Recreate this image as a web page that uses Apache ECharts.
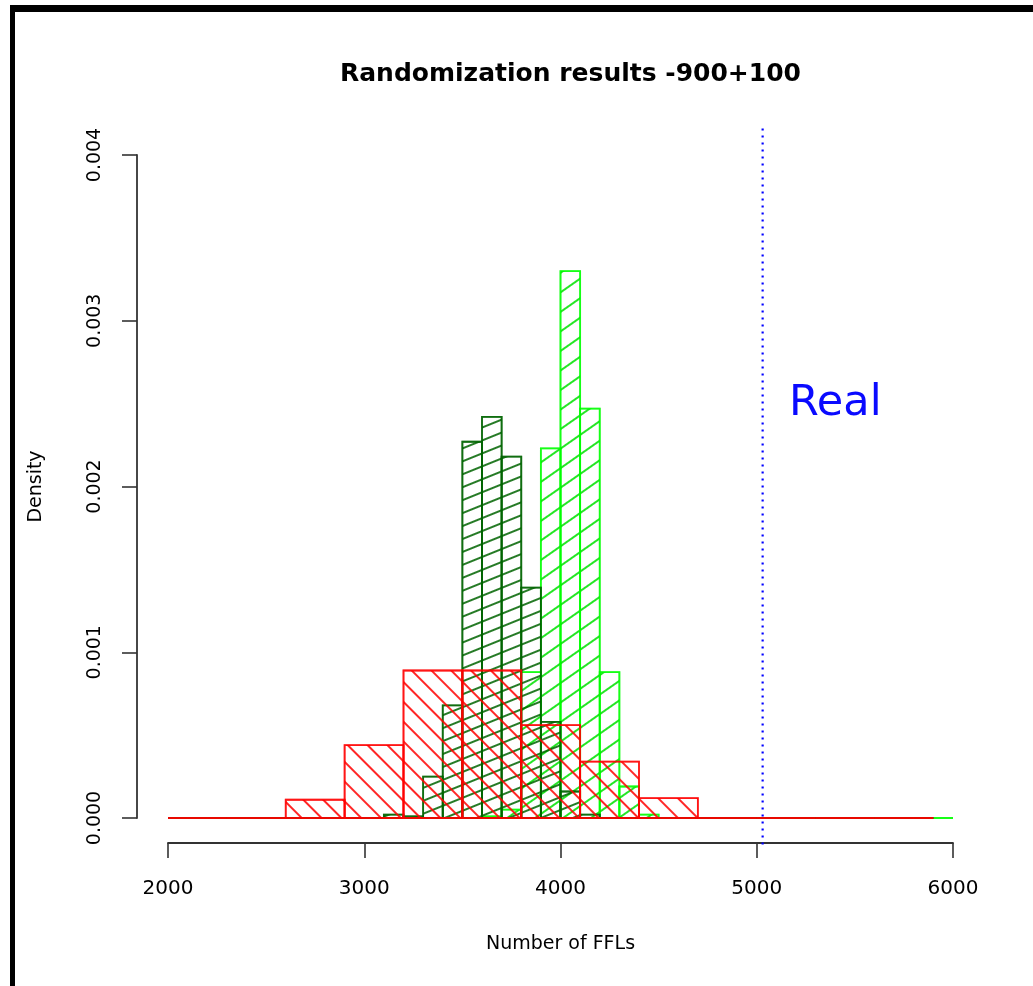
<!DOCTYPE html>
<html>
<head>
<meta charset="utf-8">
<script src="https://cdn.jsdelivr.net/npm/echarts@6/dist/echarts.min.js"></script>
<style>
  html, body { margin: 0; padding: 0; background: #fff; }
  #main { width: 1033px; height: 986px; }
</style>
</head>
<body>
<div id="main"></div>
<script>
// histogram densities, one value per bin (left edge = start + i * width)
const redStart = 2000;
const redWidth = 300;
const redDensity = [0, 0, 0.00011, 0.00044, 0.00089, 0.00089, 0.00056, 0.00034, 0.00012, 0, 0, 0, 0];

const darkStart = 2000;
const darkWidth = 100;
const darkDensity = [
  0, 0, 0, 0, 0, 0, 0, 0, 0, 0,
  0, 0.00002, 0.00001, 0.00025, 0.00068, 0.00227, 0.00242, 0.00218, 0.00139, 0.00058,
  0.00016, 0.00002, 0, 0, 0, 0, 0, 0, 0, 0,
  0, 0, 0, 0, 0, 0, 0, 0, 0
];

const greenStart = 2000;
const greenWidth = 100;
const greenDensity = [
  0, 0, 0, 0, 0, 0, 0, 0, 0, 0,
  0, 0, 0, 0, 0, 0, 0.00001, 0.00005, 0.00088, 0.00223,
  0.0033, 0.00247, 0.00088, 0.00019, 0.00002, 0, 0, 0, 0, 0,
  0, 0, 0, 0, 0, 0, 0, 0, 0, 0
];

const realValue = 5030;
const realLineSpan = [-0.00016, 0.00416];
const realLabelPos = [5400, 0.0025];

const xTicks = [2000, 3000, 4000, 5000, 6000];
const yTicks = [0, 0.001, 0.002, 0.003, 0.004];

const font = "DejaVu Sans";

function bins(start, width, dens) {
  return dens.map(function (d, i) {
    return [start + i * width, start + (i + 1) * width, d];
  });
}

function histSeries(name, start, width, dens, stroke, hatch, angle, gap) {
  return {
    type: "custom",
    name: name,
    data: bins(start, width, dens),
    encode: { x: [0, 1], y: 2 },
    renderItem: function (params, api) {
      var tl = api.coord([api.value(0), api.value(2)]);
      var br = api.coord([api.value(1), 0]);
      return {
        type: "rect",
        shape: { x: tl[0], y: tl[1], width: br[0] - tl[0], height: br[1] - tl[1] },
        style: {
          fill: "rgba(0,0,0,0)",
          stroke: stroke,
          lineWidth: 1.8,
          decal: {
            symbol: "rect",
            symbolSize: 1,
            color: hatch,
            backgroundColor: null,
            dashArrayX: [[10, 0]],
            dashArrayY: [2, gap],
            rotation: angle
          }
        }
      };
    }
  };
}

const option = {
  animation: false,
  backgroundColor: "#fff",
  title: {
    text: "Randomization results -900+100",
    left: 335,
    top: 57,
    textStyle: { fontFamily: font, fontSize: 25, fontWeight: "bold", color: "#000" }
  },
  graphic: [
    { type: "rect", left: 10, top: 5, shape: { width: 1023, height: 7 }, style: { fill: "#000" } },
    { type: "rect", left: 10, top: 5, shape: { width: 5, height: 981 }, style: { fill: "#000" } }
  ],
  grid: { left: 168, right: 80, top: 155, bottom: 168 },
  xAxis: {
    type: "value",
    min: xTicks[0],
    max: xTicks[xTicks.length - 1],
    interval: 1000,
    offset: 25,
    name: "Number of FFLs",
    nameLocation: "middle",
    nameGap: 92,
    nameTextStyle: { fontFamily: font, fontSize: 19, color: "#000" },
    axisLine: { show: true, onZero: false, lineStyle: { color: "#333", width: 1.8 } },
    axisTick: { show: true, length: 15, lineStyle: { color: "#333", width: 1.6 } },
    axisLabel: {
      fontFamily: font, fontSize: 20, color: "#000", margin: 36,
      formatter: function (v) { return String(v); }
    },
    splitLine: { show: false }
  },
  yAxis: {
    type: "value",
    min: yTicks[0],
    max: yTicks[yTicks.length - 1],
    interval: 0.001,
    offset: 31,
    name: "Density",
    nameLocation: "middle",
    nameGap: 91,
    nameRotate: 90,
    nameTextStyle: { fontFamily: font, fontSize: 19, color: "#000" },
    axisLine: { show: true, onZero: false, lineStyle: { color: "#333", width: 1.8 } },
    axisTick: { show: true, length: 15, lineStyle: { color: "#333", width: 1.6 } },
    axisLabel: {
      fontFamily: font, fontSize: 19, color: "#000", rotate: 90, margin: 32,
      formatter: function (v) { return v.toFixed(3); }
    },
    splitLine: { show: false }
  },
  series: [
    histSeries("green", greenStart, greenWidth, greenDensity, "rgba(0,255,0,0.7)", "rgba(0,225,0,0.85)", -35 * Math.PI / 180, 14),
    histSeries("darkgreen", darkStart, darkWidth, darkDensity, "rgba(0,100,0,0.75)", "rgba(0,100,0,0.85)", -22 * Math.PI / 180, 10),
    histSeries("red", redStart, redWidth, redDensity, "rgba(255,0,0,0.7)", "rgba(255,0,0,0.85)", Math.PI / 4, 12),
    {
      type: "custom",
      name: "real",
      data: [[realValue]],
      encode: { x: 0 },
      clip: false,
      renderItem: function (params, api) {
        var a = api.coord([api.value(0), realLineSpan[0]]);
        var b = api.coord([api.value(0), realLineSpan[1]]);
        return {
          type: "line",
          shape: { x1: a[0], y1: a[1], x2: b[0], y2: b[1] },
          style: { stroke: "#0000ff", lineWidth: 2.2, lineDash: [2, 5] }
        };
      }
    },
    {
      type: "custom",
      name: "realLabel",
      data: [realLabelPos],
      encode: { x: 0, y: 1 },
      clip: false,
      renderItem: function (params, api) {
        var p = api.coord([api.value(0), api.value(1)]);
        return {
          type: "text",
          x: p[0],
          y: p[1],
          style: {
            text: "Real",
            fill: "#0a0aff",
            font: "43px " + font,
            align: "center",
            verticalAlign: "middle"
          }
        };
      }
    }
  ]
};

const chart = echarts.init(document.getElementById("main"));
chart.setOption(option);
</script>
</body>
</html>
